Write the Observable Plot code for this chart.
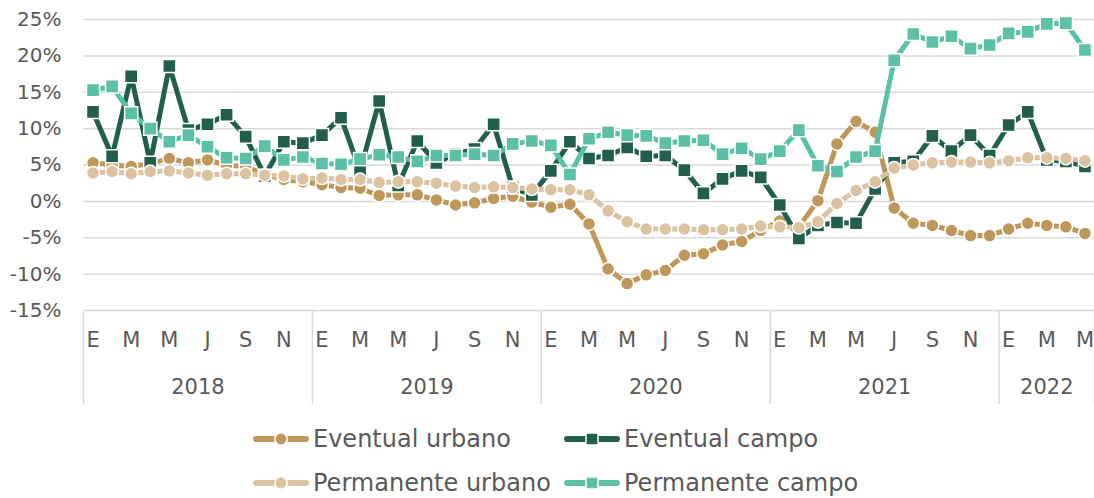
<!DOCTYPE html>
<html><head><meta charset="utf-8">
<script src="https://cdn.jsdelivr.net/npm/d3@7"></script>
<script src="https://cdn.jsdelivr.net/npm/@observablehq/plot@0.6"></script>
<style>
body{margin:0;background:#fff;font-family:"DejaVu Sans",sans-serif;}
#chart{position:relative;width:1094px;height:498px;overflow:hidden;}
.item{position:absolute;display:flex;align-items:center;height:40px;font-size:24px;color:#595959;white-space:nowrap;}
.item span{margin-left:4px;}
</style></head><body><div id="chart"></div><script>
const years = ["2018","2019","2020","2021","2022"];
const monthsPerYear = [12,12,12,12,5];
const monthLetters = ["E","F","M","A","M","J","J","A","S","O","N","D"];
const seriesNames = ["Eventual urbano","Eventual campo","Permanente urbano","Permanente campo"];
const eventualUrbano = [5.3,5.0,4.8,5.2,5.9,5.3,5.7,5.0,4.8,3.7,3.0,2.7, 2.3,1.9,1.8,0.8,0.9,0.9,0.2,-0.5,-0.2,0.4,0.7,-0.1, -0.8,-0.4,-3.1,-9.3,-11.3,-10.1,-9.5,-7.4,-7.2,-6.0,-5.5,-4.0, -2.7,-3.5,0.1,7.9,11.0,9.5,-0.9,-3.0,-3.3,-4.0,-4.7,-4.7, -3.8,-3.0,-3.3,-3.5,-4.4];
const eventualCampo = [12.3,6.2,17.2,5.3,18.6,9.8,10.6,11.9,8.9,3.5,8.2,8.0, 9.1,11.5,4.2,13.8,2.2,8.3,5.3,6.5,7.2,10.6,1.9,0.9, 4.2,8.2,5.9,6.3,7.4,6.2,6.3,4.3,1.1,3.1,4.2,3.3, -0.5,-5.1,-3.3,-2.9,-3.0,1.7,5.3,5.5,9.0,6.9,9.1,6.3, 10.5,12.3,5.7,5.5,4.8];
const permanenteUrbano = [3.9,4.1,3.8,4.1,4.2,3.9,3.6,3.8,3.8,3.6,3.5,3.1, 3.2,3.0,3.0,2.6,2.7,2.7,2.5,2.1,1.9,2.0,1.9,1.7, 1.6,1.6,0.9,-1.3,-2.8,-3.8,-3.8,-3.8,-3.9,-3.9,-3.8,-3.4, -3.5,-3.6,-2.8,-0.3,1.5,2.7,4.6,5.0,5.3,5.4,5.4,5.3, 5.6,6.0,6.0,5.9,5.6];
const permanenteCampo = [15.3,15.8,12.1,10.0,8.2,9.1,7.5,6.0,5.9,7.6,5.7,6.1, 5.2,5.1,5.8,6.4,6.1,5.5,6.3,6.3,6.5,6.3,7.9,8.3, 7.7,3.7,8.6,9.5,9.1,9.0,8.0,8.3,8.4,6.5,7.3,5.8, 6.9,9.8,4.9,4.1,6.1,6.9,19.4,23.0,21.9,22.7,21.0,21.5, 23.1,23.3,24.4,24.5,20.8];
const yTicks = [-15,-10,-5,0,5,10,15,20,25];

const seriesValues = [eventualUrbano, eventualCampo, permanenteUrbano, permanenteCampo];
const colors = ["#C0975B","#215E4E","#DBC3A1","#5BC0A7"];
const symbols = ["circle","square","circle","square"];
const radii = [6.5,7.4,6.5,7.4];

const nMonths = d3.sum(monthsPerYear);
const starts = d3.cumsum([0, ...monthsPerYear]);
const boundaries = Array.from(starts, s => s - 0.5);
const yearCenters = monthsPerYear.map((m, k) => starts[k] + (m - 1) / 2);
const monthTicks = d3.range(nMonths).filter(i => (i - starts[Math.floor(i/12)]) % 2 === 0);

const marks = [
  Plot.gridY(yTicks, {stroke: "#d9d9d9", strokeOpacity: 1, strokeWidth: 1.5}),
  Plot.axisY(yTicks, {tickSize: 0, tickPadding: 22, tickFormat: d => d + "%", fontSize: 20, label: null}),
  Plot.axisX(monthTicks, {tickSize: 0, tickPadding: 22, tickFormat: i => monthLetters[i % 12], fontSize: 21, label: null}),
  Plot.axisX(yearCenters, {tickSize: 0, tickPadding: 69, tickFormat: d => years[yearCenters.indexOf(d)], fontSize: 21, label: null}),
  Plot.axisX(boundaries, {tickSize: 94, tickFormat: () => "", stroke: "#d9d9d9", strokeWidth: 1.5, label: null})
];
seriesValues.forEach((vals, s) => {
  const rows = vals.map((v, i) => ({i, v}));
  marks.push(Plot.lineY(rows, {x: "i", y: "v", stroke: colors[s], strokeWidth: 5, strokeLinecap: "butt", strokeLinejoin: "round"}));
  marks.push(Plot.dot(rows, {x: "i", y: "v", fill: colors[s], stroke: "white", strokeWidth: 1.5, r: radii[s], symbol: symbols[s]}));
});

const chart = Plot.plot({
  width: 1094, height: 420,
  marginLeft: 83, marginRight: 0, marginTop: 19, marginBottom: 110,
  x: {type: "linear", domain: [-0.5, nMonths - 0.5], axis: null},
  y: {domain: [-15, 25], axis: null},
  style: {fontFamily: "DejaVu Sans, sans-serif", color: "#595959", background: "white", overflow: "visible"},
  marks
});
const root = document.getElementById("chart");
root.appendChild(chart);

// legend
const pos = [[253, 419], [564, 419], [253, 463], [564, 463]];
seriesNames.forEach((name, s) => {
  const div = document.createElement("div");
  div.className = "item";
  div.style.left = pos[s][0] + "px";
  div.style.top = pos[s][1] + "px";
  const sw = d3.create("svg").attr("width", 56).attr("height", 20);
  sw.append("line").attr("x1", 3).attr("x2", 53).attr("y1", 10).attr("y2", 10)
    .attr("stroke", colors[s]).attr("stroke-width", 6).attr("stroke-linecap", "round");
  if (symbols[s] === "circle") {
    sw.append("circle").attr("cx", 28).attr("cy", 10).attr("r", 6.2).attr("fill", colors[s]).attr("stroke", "white").attr("stroke-width", 1.5);
  } else {
    sw.append("rect").attr("x", 22).attr("y", 4).attr("width", 12).attr("height", 12).attr("fill", colors[s]).attr("stroke", "white").attr("stroke-width", 1.5);
  }
  div.appendChild(sw.node());
  const sp = document.createElement("span");
  sp.textContent = name;
  div.appendChild(sp);
  root.appendChild(div);
});
</script></body></html>
